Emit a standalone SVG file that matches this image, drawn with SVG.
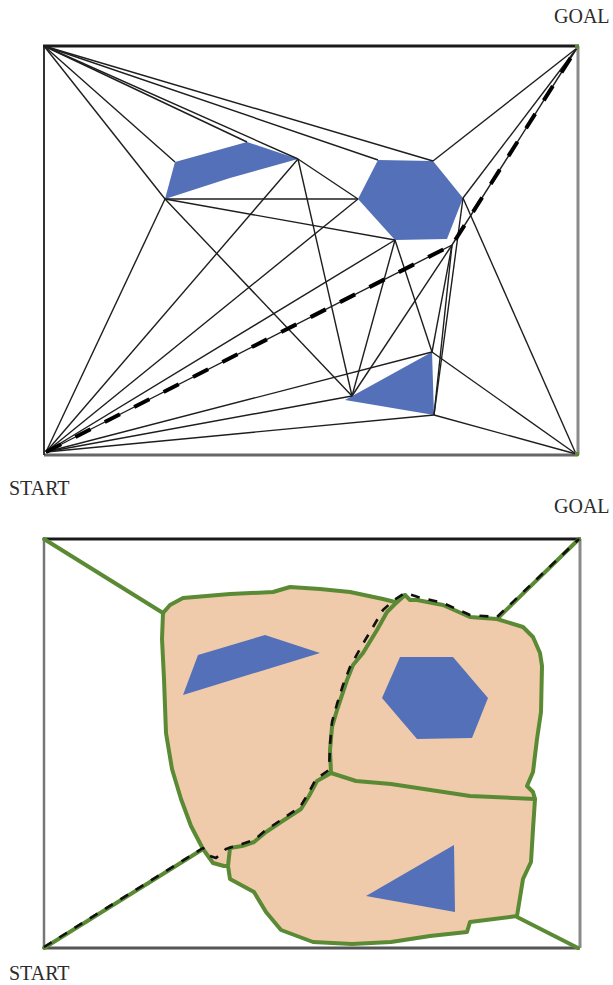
<svg xmlns="http://www.w3.org/2000/svg" width="613" height="985" viewBox="0 0 613 985">
<style>
.lbl{font-family:"Liberation Serif","Times New Roman",serif;font-size:20px;fill:#2b2b2b}
.edge{stroke:#1e1e1e;stroke-width:1.4;fill:none}
.path1{stroke:#000;stroke-width:4;stroke-dasharray:17 16;fill:none}
.obs{fill:#5470b8}
.green{stroke:#5b8a35;stroke-width:4;fill:none;stroke-linejoin:round;stroke-linecap:round}
.path2{stroke:#111;stroke-width:2.6;stroke-dasharray:9 9;fill:none;stroke-linejoin:round}
</style>
<rect width="613" height="985" fill="#fff"/>

<!-- Top panel: visibility graph -->
<g id="top-frame">
  <line x1="44" y1="455" x2="578" y2="455" stroke="#666" stroke-width="3"/>
  <line x1="578" y1="46" x2="578" y2="455" stroke="#8a8a8a" stroke-width="3"/>
  <line x1="44" y1="46" x2="44" y2="455" stroke="#333" stroke-width="2"/>
  <line x1="43" y1="46" x2="579" y2="46" stroke="#1a1a1a" stroke-width="3"/>
</g>
<g id="top-obstacles">
  <polygon id="top-obs1" class="obs" points="175,162 247,142 298,159 230,178 165,199"/>
  <polygon id="top-obs2" class="obs" points="378,160 433,161 463,198 447,239 395,240 358,199"/>
  <polygon id="top-obs3" class="obs" points="345,400 432,352 434,415"/>
</g>
<g id="top-connectors">
  <!-- from top-left corner -->
  <line class="edge" x1="44" y1="46" x2="175" y2="162"/>
  <line class="edge" x1="44" y1="46" x2="165" y2="199"/>
  <line class="edge" x1="44" y1="46" x2="247" y2="142"/>
  <line class="edge" x1="44" y1="46" x2="298" y2="159"/>
  <line class="edge" x1="44" y1="46" x2="378" y2="160"/>
  <line class="edge" x1="44" y1="46" x2="433" y2="161"/>
  <!-- from goal -->
  <line class="edge" x1="577" y1="48" x2="433" y2="161"/>
  <line class="edge" x1="577" y1="48" x2="463" y2="198"/>
  <line class="edge" x1="577" y1="48" x2="452" y2="245"/>
  <!-- bottom-right corner -->
  <line class="edge" x1="576" y1="454" x2="463" y2="198"/>
  <line class="edge" x1="576" y1="454" x2="432" y2="352"/>
  <line class="edge" x1="576" y1="454" x2="434" y2="415"/>
  <!-- from start -->
  <line class="edge" x1="46" y1="452" x2="165" y2="199"/>
  <line class="edge" x1="46" y1="452" x2="298" y2="159"/>
  <line class="edge" x1="46" y1="452" x2="358" y2="199"/>
  <line class="edge" x1="46" y1="452" x2="395" y2="240"/>
  <line class="edge" x1="46" y1="452" x2="452" y2="245"/>
  <line class="edge" x1="46" y1="452" x2="432" y2="352"/>
  <line class="edge" x1="46" y1="452" x2="352" y2="396"/>
  <line class="edge" x1="46" y1="452" x2="434" y2="415"/>
  <!-- middle -->
  <line class="edge" x1="165" y1="199" x2="358" y2="199"/>
  <line class="edge" x1="165" y1="199" x2="352" y2="396"/>
  <line class="edge" x1="165" y1="199" x2="395" y2="240"/>
  <line class="edge" x1="298" y1="159" x2="358" y2="199"/>
  <line class="edge" x1="298" y1="159" x2="352" y2="396"/>
  <line class="edge" x1="395" y1="240" x2="352" y2="396"/>
  <line class="edge" x1="395" y1="240" x2="432" y2="352"/>
  <line class="edge" x1="452" y1="245" x2="352" y2="396"/>
  <line class="edge" x1="452" y1="245" x2="432" y2="352"/>
  <line class="edge" x1="452" y1="245" x2="434" y2="415"/>
  <line class="edge" x1="463" y1="198" x2="434" y2="415"/>
  <!-- shortest path -->
  <polyline class="path1" points="46,452 452,245 577,48"/>
</g>
<g id="top-corner-marks" fill="#5b8a35">
  <rect x="575" y="45" width="4" height="4"/>
  <rect x="575" y="452" width="4" height="4"/>
</g>
<g id="top-labels">
  <text class="lbl" x="554" y="23">GOAL</text>
  <text class="lbl" x="9" y="495">START</text>
</g>

<!-- Bottom panel: cell decomposition / roadmap -->
<g id="bottom-frame">
  <line x1="44" y1="948" x2="580" y2="948" stroke="#555" stroke-width="3"/>
  <line x1="580" y1="539" x2="580" y2="948" stroke="#8a8a8a" stroke-width="3"/>
  <line x1="44" y1="539" x2="44" y2="948" stroke="#777" stroke-width="2.5"/>
  <line x1="43" y1="539" x2="581" y2="539" stroke="#1a1a1a" stroke-width="3"/>
</g>
<g id="bottom-regions">
  <path fill="#efcbab" d="M163,613 L170,605 L183,598 L230,594 L273,592 L290,587 L320,589 L350,592 L383,599 L395,602 L405,595 L410,600 L417,600 L443,605 L470,617 L497,619 L523,627 L533,637 L540,653 L542,666 L541,712 L537,739 L533,772 L527,786 L533,792 L535,799 L533,829 L531,862 L523,879 L517,916 L470,922 L467,932 L430,936 L391,942 L352,944 L313,942 L281,930 L266,912 L254,892 L230,879 L228,866 L224,866 L213,863 L203,849 L191,826 L181,799 L172,769 L166,733 L164,679 L162,639 Z"/>
</g>
<g id="bottom-obstacles">
  <polygon id="bot-obs1" class="obs" points="198,655 265,635 320,653 183,695"/>
  <polygon id="bot-obs2" class="obs" points="400,657 453,657 488,698 472,738 417,739 382,698"/>
  <polygon id="bot-obs3" class="obs" points="366,896 454,845 455,912"/>
</g>
<g id="bottom-connectors">
  <path class="green" d="M163,613 L170,605 L183,598 L230,594 L273,592 L290,587 L320,589 L350,592 L383,599 L395,602 L405,595 L410,600 L417,600 L443,605 L470,617 L497,619 L523,627 L533,637 L540,653 L542,666 L541,712 L537,739 L533,772 L527,786 L533,792 L535,799 L533,829 L531,862 L523,879 L517,916 L470,922 L467,932 L430,936 L391,942 L352,944 L313,942 L281,930 L266,912 L254,892 L230,879 L228,866 L224,866 L213,863 L203,849 L191,826 L181,799 L172,769 L166,733 L164,679 L162,639 Z"/>
  <path class="green" d="M405,595 L395,604 L387,612 L377,630 L363,653 L353,665 L347,680 L337,710 L332,727 L330,750 L331,773"/>
  <path class="green" d="M331,773 L356,781 L391,784 L470,796 L535,799"/>
  <path class="green" d="M331,773 L317,781 L309,796 L301,809 L281,822 L266,832 L254,842 L242,846 L230,848 L228,866"/>
  <line class="green" x1="44" y1="539" x2="163" y2="613"/>
  <line class="green" x1="579" y1="539" x2="497" y2="619"/>
  <line class="green" x1="578" y1="948" x2="517" y2="917"/>
  <line class="green" x1="44" y1="948" x2="203" y2="849"/>
  <polyline class="path2" points="44,947 203,848 210,856 216,858 226,849 242,844 254,840 266,830 281,820 300,807 308,794 316,779 329,770 330,745 332,722 337,704 343,685 350,667 361,647 373,627 383,610 394,600 405,593 418,597 443,603 470,615 497,617 579,539"/>
</g>
<g id="bottom-labels">
  <text class="lbl" x="554" y="513">GOAL</text>
  <text class="lbl" x="9" y="980">START</text>
</g>
</svg>
